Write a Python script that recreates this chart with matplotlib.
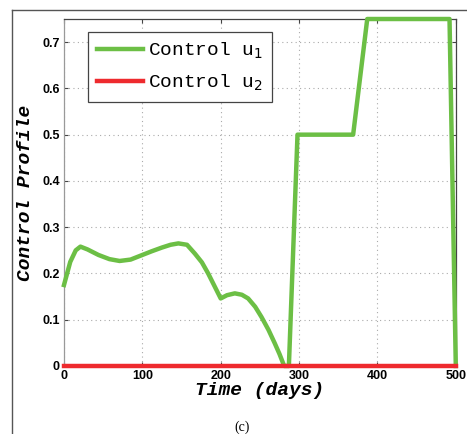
import numpy as np
import matplotlib.pyplot as plt
from matplotlib.lines import Line2D

# control u1 (days, value)
t_u1 = [0, 8, 15, 21, 30, 44, 58, 71, 85, 100, 112, 125, 136, 146, 157, 167, 176, 184, 192, 200,
        208, 218, 227, 235, 244, 252, 261, 269, 275, 281, 287, 298, 369, 387, 492, 500]
u1 = [0.175, 0.225, 0.250, 0.258, 0.252, 0.240, 0.231, 0.227, 0.230, 0.240, 0.248, 0.256, 0.262, 0.265,
      0.262, 0.243, 0.224, 0.200, 0.173, 0.146, 0.153, 0.157, 0.154, 0.146, 0.128, 0.106, 0.078, 0.049,
      0.026, 0.0, 0.0, 0.5, 0.5, 0.75, 0.75, 0.0]
t_u2 = [0, 500]
u2 = [0, 0]

xticks = [0, 100, 200, 300, 400, 500]
yticks = [0, 0.1, 0.2, 0.3, 0.4, 0.5, 0.6, 0.7]
ytick_labels = ['0', '0.1', '0.2', '0.3', '0.4', '0.5', '0.6', '0.7']

green = '#6cbf45'
red = '#ee2a2e'

fig = plt.figure(figsize=(4.67, 4.34), dpi=100)
ax = fig.add_axes([0.137, 0.1567, 0.839, 0.7995])

ax.plot(t_u1, u1, color=green, lw=3.2, label=r'Control u$_1$', zorder=3, clip_on=False)
ax.plot(t_u2, u2, color=red, lw=3.2, label=r'Control u$_2$', zorder=4, clip_on=False)

ax.set_xlim(0, 500)
ax.set_ylim(0, 0.75)
ax.set_xticks(xticks)
ax.set_yticks(yticks)
ax.set_yticklabels(ytick_labels)
ax.grid(True, linestyle=(0, (1, 3)), color='#aaaaaa', lw=0.8)
ax.tick_params(direction='in', top=True, right=True, length=3, color='#444444', pad=3)
for lab in ax.get_xticklabels() + ax.get_yticklabels():
    lab.set_fontfamily('Liberation Sans')
    lab.set_fontweight('bold')
    lab.set_fontsize(9)
for s in ['top', 'right', 'bottom']:
    ax.spines[s].set_color('#444444')
ax.spines['left'].set_color('#999999')
for s in ax.spines.values():
    s.set_linewidth(0.9)

ax.set_xlabel('Time (days)', fontfamily='Liberation Mono', fontstyle='italic', fontweight='bold',
              fontsize=14, labelpad=0)
ax.set_ylabel('Control Profile', fontfamily='Liberation Mono', fontstyle='italic', fontweight='bold',
              fontsize=14, labelpad=6)

leg = ax.legend(loc='upper left', bbox_to_anchor=(0.061, 0.9625), borderaxespad=0,
                fancybox=False, edgecolor='#444444', framealpha=1,
                prop={'family': 'Liberation Mono', 'size': 14},
                handlelength=2.4, handletextpad=0.25, borderpad=0.45, labelspacing=0.6)
leg.get_frame().set_linewidth(0.9)

# outer panel frame (cropped)
fig.add_artist(Line2D([12 / 467, 1], [1 - 10 / 434, 1 - 10 / 434], color='#555555', lw=1))
fig.add_artist(Line2D([12 / 467, 12 / 467], [0, 1 - 10 / 434], color='#555555', lw=1))

fig.text(242 / 467, 1 - 427 / 434, '(c)', family='Liberation Serif', fontsize=10, ha='center', va='center')

fig.savefig('out.png', dpi=100)
